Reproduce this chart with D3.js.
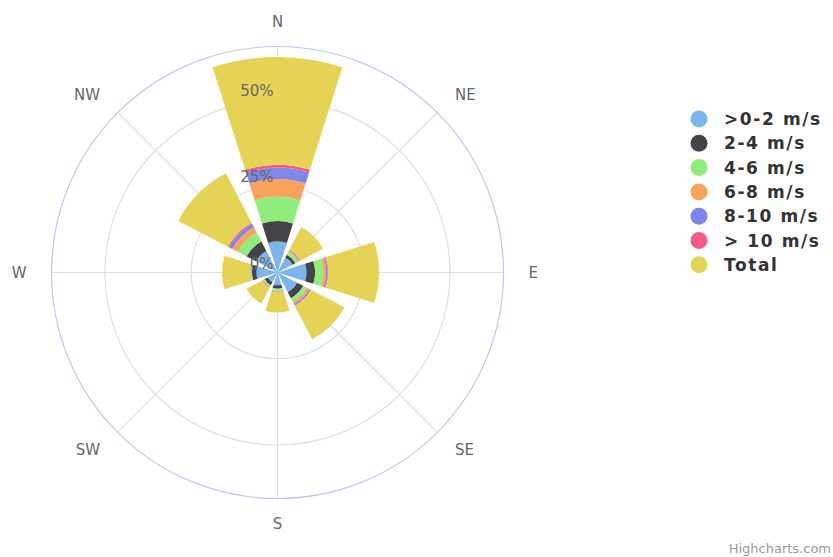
<!DOCTYPE html>
<html>
<head>
<meta charset="utf-8">
<script src="https://cdn.jsdelivr.net/npm/d3@7"></script>
<style>
  body { margin: 0; background: #fff; }
  text { font-family: "DejaVu Sans", sans-serif; }
</style>
</head>
<body>
<div id="chart"></div>
<script>
// data (percent of time)
const directions = ["N", "NE", "E", "SE", "S", "SW", "W", "NW"];
const seriesNames = [">0-2 m/s", "2-4 m/s", "4-6 m/s", "6-8 m/s", "8-10 m/s", "> 10 m/s", "Total"];
const speed0_2  = [9.0, 4.9, 8.4, 6.4, 3.7, 3.2, 6.1, 7.0];
const speed2_4  = [5.9, 0.9, 2.5, 2.0, 1.0, 1.0, 1.3, 3.1];
const speed4_6  = [7.1, 0.9, 2.4, 1.2, 0.6, 0.4, 0.4, 2.9];
const speed6_8  = [5.1, 0.4, 0.8, 0.7, 0.3, 0.3, 0.1, 1.8];
const speed8_10 = [3.3, 0.2, 0.4, 0.4, 0.15, 0.1, 0.1, 1.0];
const speed10   = [0.8, 0.15, 0.2, 0.2, 0.05, 0.07, 0.03, 0.4];
const total     = [31.2, 7.45, 14.7, 10.9, 5.8, 5.07, 8.03, 16.2];
const yTicks = [0, 25, 50];
const yMax = 65.5;

const colors = ["#7cb5ec", "#434348", "#90ed7d", "#f7a35c", "#8085e9", "#f15c80", "#e4d354"];

// build rows for the stack
const allSeries = [speed0_2, speed2_4, speed4_6, speed6_8, speed8_10, speed10, total];
const data = directions.map(function(dir, i) {
    const row = { dir: dir };
    seriesNames.forEach(function(k, j) { row[k] = allSeries[j][i]; });
    return row;
});

const width = 833, height = 557;
const cx = 277.5, cy = 272.5, outer = 226;

const svg = d3.select("#chart")
    .append("svg")
    .attr("width", width)
    .attr("height", height);

const g = svg.append("g")
    .attr("transform", `translate(${cx}, ${cy})`);

// scales
const r = d3.scaleLinear().domain([0, yMax]).range([0, outer]);
const deg = Math.PI / 180;
const x = d3.scaleBand()
    .domain(directions)
    .range([-22.5 * deg, 337.5 * deg])
    .paddingInner(0.22)
    .paddingOuter(0.11);
const angleOf = d => x(d) + x.bandwidth() / 2;

// grid circles
g.selectAll("circle.grid")
    .data(yTicks.filter(t => t > 0))
    .join("circle")
    .attr("class", "grid")
    .attr("r", d => r(d))
    .attr("fill", "none")
    .attr("stroke", "#dedee6")
    .attr("stroke-width", 1.2);

// radial lines
g.selectAll("line.spoke")
    .data(directions)
    .join("line")
    .attr("class", "spoke")
    .attr("x1", 0).attr("y1", 0)
    .attr("x2", d => outer * Math.sin(angleOf(d)))
    .attr("y2", d => -outer * Math.cos(angleOf(d)))
    .attr("stroke", "#dedee6")
    .attr("stroke-width", 1.2);

// outer circle
g.append("circle")
    .attr("r", outer)
    .attr("fill", "none")
    .attr("stroke", "#c4c6ea")
    .attr("stroke-width", 1.2);

// stacked bars
const stackedData = d3.stack().keys(seriesNames)(data);
const arc = d3.arc()
    .innerRadius(d => r(d[0]))
    .outerRadius(d => r(d[1]))
    .startAngle(d => x(d.data.dir))
    .endAngle(d => x(d.data.dir) + x.bandwidth());

g.selectAll("g.layer")
    .data(stackedData)
    .join("g")
    .attr("class", "layer")
    .attr("fill", (d, i) => colors[i])
    .selectAll("path")
    .data(d => d)
    .join("path")
    .attr("d", arc);

// direction labels
const labelR = 251;
g.selectAll("text.dir")
    .data(directions)
    .join("text")
    .attr("class", "dir")
    .attr("x", d => labelR * Math.sin(angleOf(d)))
    .attr("y", d => -labelR * Math.cos(angleOf(d)))
    .attr("dy", "0.35em")
    .attr("text-anchor", function(d) {
        const s = Math.sin(angleOf(d));
        return Math.abs(s) < 0.01 ? "middle" : (s > 0 ? "start" : "end");
    })
    .style("font-size", "15px")
    .style("fill", "#666")
    .text(d => d);

// y axis labels
g.selectAll("text.ytick")
    .data(yTicks)
    .join("text")
    .attr("class", "ytick")
    .attr("x", -4)
    .attr("y", d => -r(d) - 4)
    .attr("text-anchor", "end")
    .style("font-size", "15px")
    .style("fill", "#666")
    .text(d => d + "%");

// legend
const legend = svg.append("g").attr("transform", "translate(699, 119)");
const item = legend.selectAll("g")
    .data(seriesNames)
    .join("g")
    .attr("transform", (d, i) => `translate(0, ${i * 24.3})`);
item.append("circle")
    .attr("r", 8.5)
    .attr("fill", (d, i) => colors[i]);
item.append("text")
    .attr("x", 25)
    .attr("dy", "0.36em")
    .style("font-size", "17px")
    .style("font-weight", "bold")
    .style("letter-spacing", "1.6px")
    .style("fill", "#333")
    .text(d => d);

// credits
svg.append("text")
    .attr("x", 831)
    .attr("y", 553)
    .attr("text-anchor", "end")
    .style("font-size", "13px")
    .style("fill", "#999")
    .text("Highcharts.com");
</script>
</body>
</html>
